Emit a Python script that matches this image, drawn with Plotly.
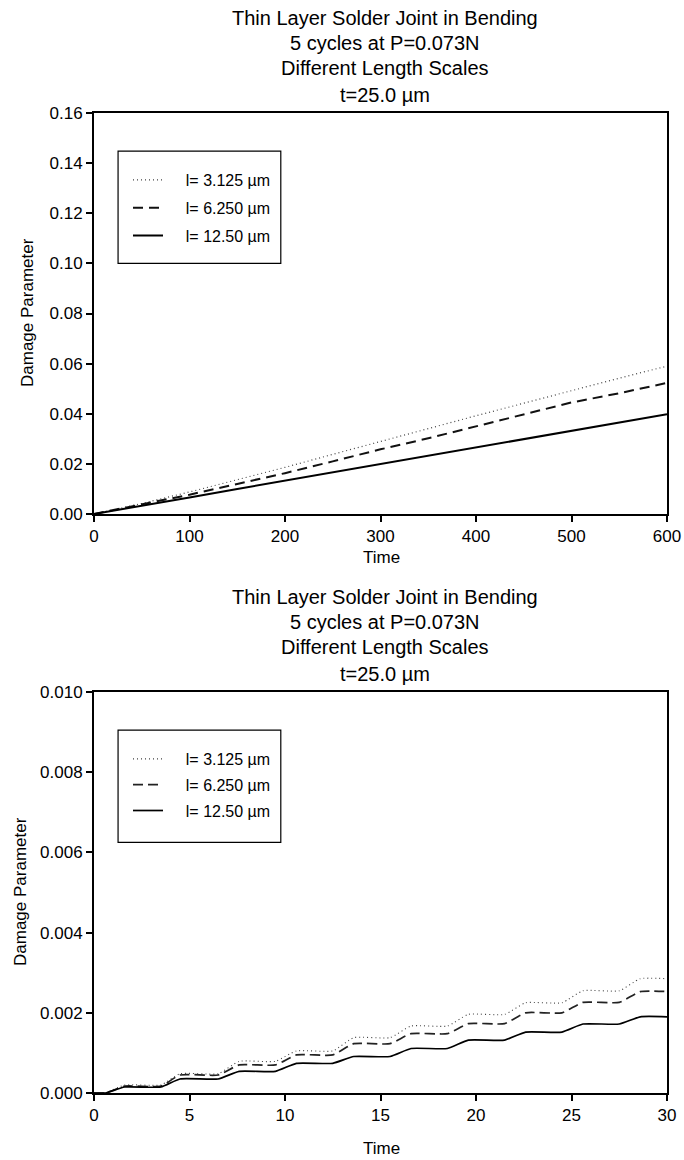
import plotly.graph_objects as go

# ---- long-time run (0-600) ----
time_long = [0, 50, 100, 150, 200, 250, 300, 350, 400, 450, 500, 550, 600]
dmg_long_3125 = [0, 0.0042, 0.0088, 0.0136, 0.0186, 0.0238, 0.0290, 0.0340, 0.0392, 0.0442, 0.0493, 0.0542, 0.0590]
dmg_long_6250 = [0, 0.0037, 0.0077, 0.0120, 0.0163, 0.0210, 0.0258, 0.0302, 0.0350, 0.0400, 0.0445, 0.0482, 0.0523]
dmg_long_1250 = [0, 0.0032, 0.0066, 0.0100, 0.0133, 0.0167, 0.0200, 0.0232, 0.0265, 0.0300, 0.0334, 0.0366, 0.0398]

# ---- first cycles (0-30) ----
time_short = [0, 0.6, 1.6, 3.5, 4.5, 6.5, 7.6, 9.5, 10.6, 12.5, 13.6, 15.5, 16.6,
              18.5, 19.6, 21.5, 22.6, 24.5, 25.6, 27.5, 28.6, 30]
dmg_short_3125 = [0, 0, 0.00020, 0.00020, 0.00048, 0.00048, 0.00079, 0.00079, 0.00105, 0.00105,
                  0.00138, 0.00138, 0.00167, 0.00167, 0.00196, 0.00196, 0.00225, 0.00225,
                  0.00255, 0.00255, 0.00285, 0.00285]
dmg_short_6250 = [0, 0, 0.00017, 0.00017, 0.00045, 0.00045, 0.00070, 0.00070, 0.00095, 0.00095,
                  0.00123, 0.00123, 0.00148, 0.00148, 0.00173, 0.00173, 0.00200, 0.00200,
                  0.00226, 0.00226, 0.00253, 0.00253]
dmg_short_1250 = [0, 0, 0.00015, 0.00015, 0.00035, 0.00035, 0.00054, 0.00054, 0.00074, 0.00074,
                  0.00091, 0.00091, 0.00111, 0.00111, 0.00132, 0.00132, 0.00152, 0.00152,
                  0.00172, 0.00172, 0.00190, 0.00190]

series_names = ["l= 3.125 \u00b5m", "l= 6.250 \u00b5m", "l= 12.50 \u00b5m"]
title_lines = ["Thin Layer Solder Joint in Bending", "5 cycles at P=0.073N",
               "Different Length Scales", "t=25.0 \u00b5m"]

FONT = "Liberation Sans, Arial, sans-serif"
W, H = 684, 1160
M_L, M_R, M_T, M_B = 94, 17, 113, 67
PLOT_H = H - M_T - M_B
PLOT_W = W - M_L - M_R


def py(px):
    """pixel row -> paper y"""
    return (H - M_B - px) / PLOT_H


def px_x(px):
    """pixel column -> paper x"""
    return (px - M_L) / PLOT_W


# legend labels get a small lead-in so the text sits clear of the line sample
PAD = "\u00a0\u00a0\u00a0\u00a0"

long_styles = [
    dict(color="#444444", width=1.2, dash="1px,3px"),
    dict(color="#111111", width=2.0, dash="10px,6px"),
    dict(color="#000000", width=2.0),
]
short_styles = [
    dict(color="#444444", width=1.1, dash="1px,3px"),
    dict(color="#222222", width=1.7, dash="10px,5px"),
    dict(color="#000000", width=1.7),
]

fig = go.Figure()

long_series = [dmg_long_3125, dmg_long_6250, dmg_long_1250]
short_series = [dmg_short_3125, dmg_short_6250, dmg_short_1250]

for i, (name, ys) in enumerate(zip(series_names, long_series)):
    fig.add_trace(go.Scatter(x=time_long, y=ys, mode="lines", name=PAD + name, line=long_styles[i],
                             xaxis="x", yaxis="y", legend="legend",
                             legendgroup=f"a{i}"))
for i, (name, ys) in enumerate(zip(series_names, short_series)):
    fig.add_trace(go.Scatter(x=time_short, y=ys, mode="lines", name=PAD + name,
                             line=dict(**short_styles[i], shape="spline", smoothing=0.5),
                             xaxis="x2", yaxis="y2", legend="legend2",
                             legendgroup=f"b{i}"))

axis_common = dict(showline=True, linecolor="black", linewidth=2, mirror=True,
                   ticks="outside", ticklen=6, tickwidth=1.5, tickcolor="black",
                   showgrid=False, zeroline=False, automargin=False,
                   tickfont=dict(family=FONT, size=17, color="black"))

top_dom = [py(514), 1.0]
bot_dom = [0.0, py(692)]

legend_common = dict(xanchor="left", yanchor="top", bgcolor="rgba(0,0,0,0)", borderwidth=0,
                     font=dict(family=FONT, size=16, color="black"))

fig.update_layout(
    template="none",
    width=W, height=H,
    margin=dict(l=M_L, r=M_R, t=M_T, b=M_B, autoexpand=False),
    paper_bgcolor="white", plot_bgcolor="white",
    font=dict(family=FONT, color="black"),
    showlegend=True,
    xaxis=dict(**axis_common, domain=[0, 1], range=[0, 600], tickvals=[0, 100, 200, 300, 400, 500, 600],
               anchor="y"),
    yaxis=dict(**axis_common, domain=top_dom, range=[0, 0.16], dtick=0.02, tickformat=".2f",
               anchor="x"),
    xaxis2=dict(**axis_common, domain=[0, 1], range=[0, 30], dtick=5, anchor="y2"),
    yaxis2=dict(**axis_common, domain=bot_dom, range=[0, 0.010], dtick=0.002, tickformat=".3f",
                anchor="x2"),
    legend=dict(**legend_common, x=px_x(128), y=py(163), tracegroupgap=4),
    legend2=dict(**legend_common, x=px_x(128), y=py(742), tracegroupgap=2),
)

# legend frames
for xr, yr in (("x domain", "y domain"), ("x2 domain", "y2 domain")):
    fig.add_shape(type="rect", xref=xr, yref=yr, x0=0.042, x1=0.326, y0=0.625, y1=0.905,
                  line=dict(color="black", width=1.2), fillcolor="rgba(0,0,0,0)")

annotations = []
for centers in ([18, 43, 68, 95], [597, 622, 647, 674]):
    for txt, cy in zip(title_lines, centers):
        annotations.append(dict(text=txt, x=px_x(385), y=py(cy), xref="paper", yref="paper",
                                xanchor="center", yanchor="middle", showarrow=False,
                                font=dict(family=FONT, size=20, color="black")))
# axis titles
for cy, cx in ((313, 27), (892, 20)):
    annotations.append(dict(text="Damage Parameter", x=px_x(cx), y=py(cy), xref="paper", yref="paper",
                            xanchor="center", yanchor="middle", textangle=-90, showarrow=False,
                            font=dict(family=FONT, size=17, color="black")))
for cy in (557, 1148):
    annotations.append(dict(text="Time", x=px_x(381), y=py(cy), xref="paper", yref="paper",
                            xanchor="center", yanchor="middle", showarrow=False,
                            font=dict(family=FONT, size=17, color="black")))
fig.update_layout(annotations=annotations)

fig.write_html("out.html")
